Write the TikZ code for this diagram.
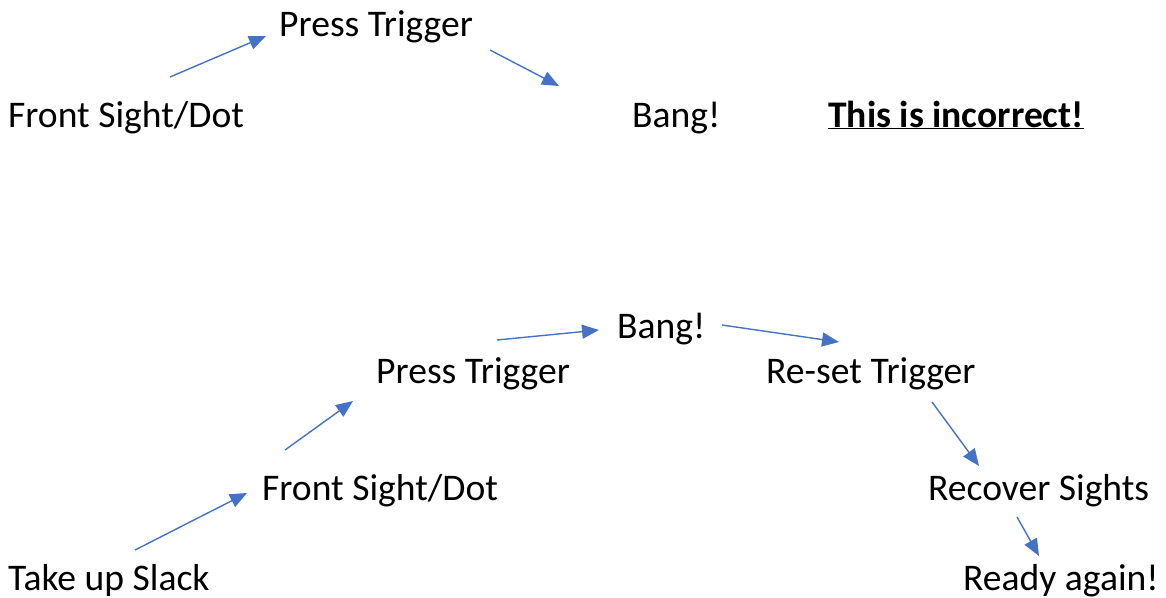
\documentclass[tikz,border=0pt]{standalone}
\usepackage{fontspec}
\setmainfont{Carlito}
\usetikzlibrary{arrows.meta}
\definecolor{arrowblue}{HTML}{4472C4}
\tikzset{
  lbl/.style={anchor=base west, inner sep=0pt, font=\fontsize{37.6}{40}\selectfont},
  flow/.style={draw=arrowblue, line width=1.4pt, -{Triangle[length=17pt,width=14pt]}}
}
\begin{document}
\begin{tikzpicture}[x=1pt, y=-1pt]
\useasboundingbox (0,0) rectangle (1166,597);

% upper sequence
\node[lbl] (pt1) at (279,36) {Press Trigger};
\node[lbl] (fs1) at (8,127) {Front Sight/Dot};
\node[lbl] (bg1) at (632,127) {Bang!};
\node[lbl] (note) at (828,127) {\underline{\textbf{This is incorrect!}}};

\coordinate (u1s) at (170,77);  \coordinate (u1e) at (266,36);
\coordinate (u2s) at (490,50);  \coordinate (u2e) at (559,86);
\draw[flow] (u1s) -- (u1e);
\draw[flow] (u2s) -- (u2e);

% lower sequence
\node[lbl] (ts) at (8,590) {Take up Slack};
\node[lbl] (fs2) at (262,500) {Front Sight/Dot};
\node[lbl] (pt2) at (376,383) {Press Trigger};
\node[lbl] (bg2) at (617,338) {Bang!};
\node[lbl] (rt) at (766,383) {Re-set Trigger};
\node[lbl] (rs) at (928,500) {Recover Sights};
\node[lbl] (ra) at (963,590) {Ready again!};

\coordinate (l1s) at (135,550); \coordinate (l1e) at (247,493);
\coordinate (l2s) at (285,450); \coordinate (l2e) at (353,401);
\coordinate (l3s) at (497,340); \coordinate (l3e) at (599,330);
\coordinate (l4s) at (722,325); \coordinate (l4e) at (839,342);
\coordinate (l5s) at (932,402); \coordinate (l5e) at (979,466);
\coordinate (l6s) at (1017,517); \coordinate (l6e) at (1039,556);
\foreach \i in {1,...,6} \draw[flow] (l\i s) -- (l\i e);
\end{tikzpicture}
\end{document}
